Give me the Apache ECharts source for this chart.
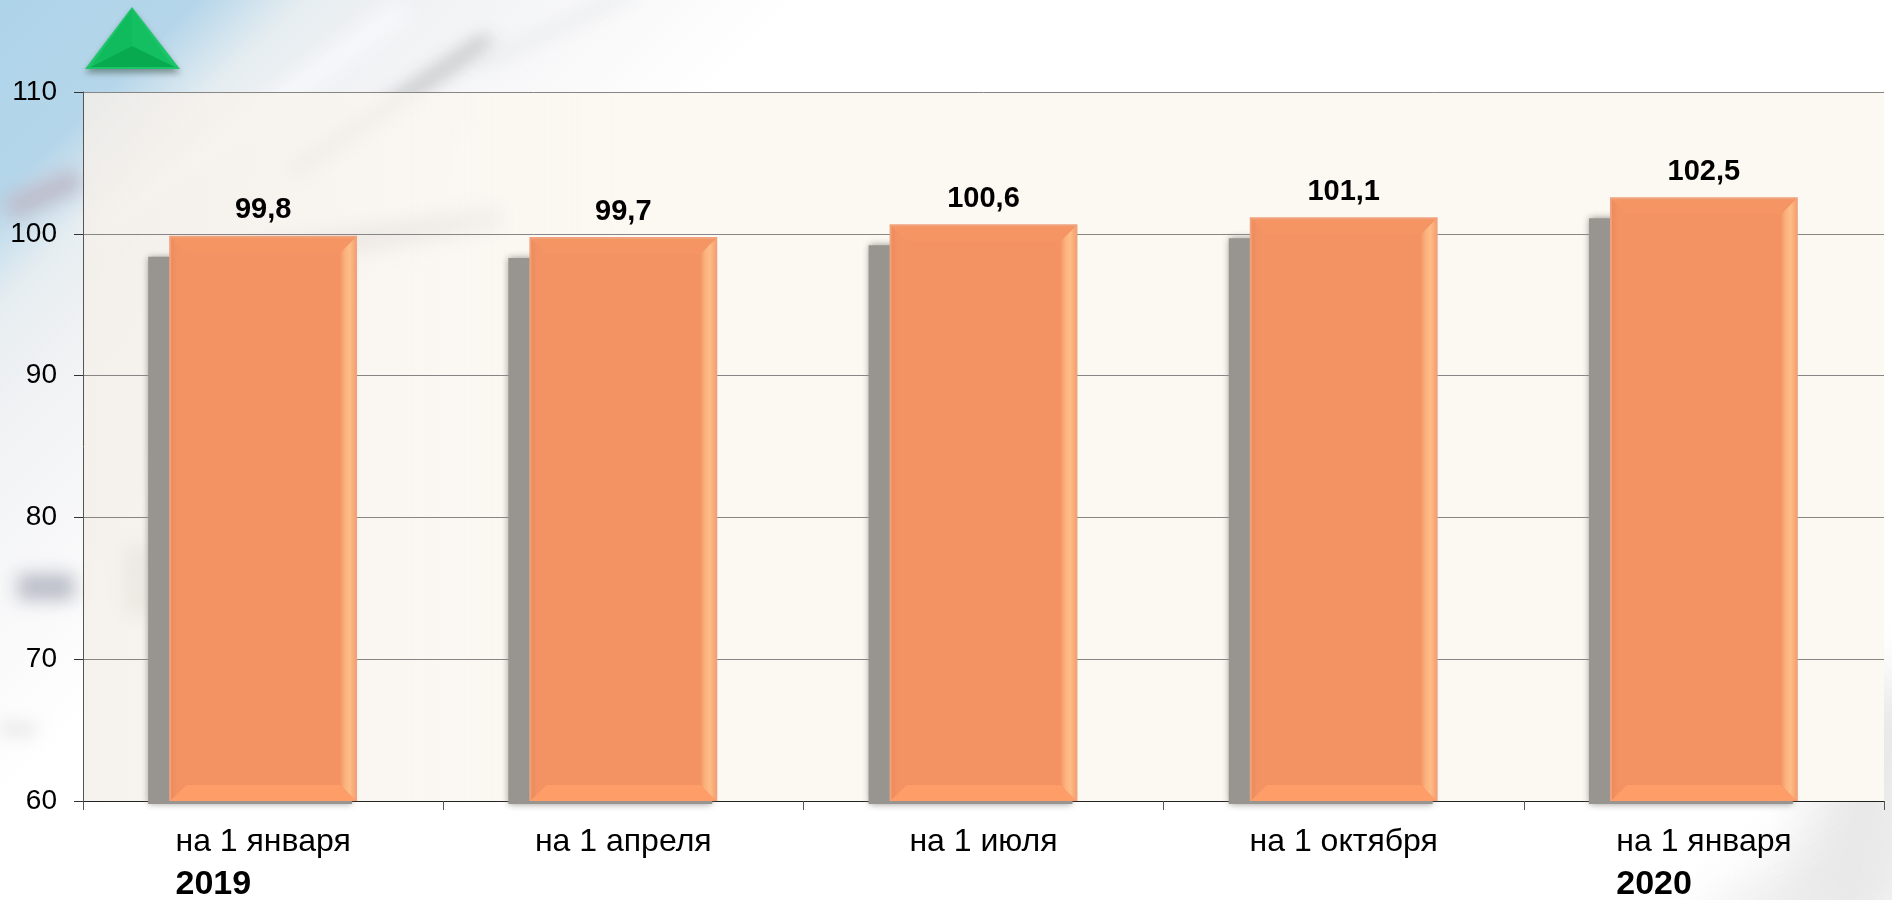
<!DOCTYPE html>
<html>
<head>
<meta charset="utf-8">
<style>
  html, body { margin: 0; height: 100%; overflow: hidden; background: #fff; }
  /* размытый фон слайда */
  .bg { position: absolute; left: 0; top: 0; width: 1892px; height: 900px; overflow: hidden;
    background: linear-gradient(135deg, #aed4ea 0, #b5d6ea 140px, #e6edf1 215px, #f1f2f4 300px, #fafafb 470px, #fff 570px); }
  .bg i { position: absolute; display: block; filter: blur(9px); }
  .bg i.soft { filter: blur(30px); }
  #main { position: absolute; left: 0; top: 0; width: 1892px; height: 900px; }
</style>
</head>
<body>
<div class="bg">
  <i style="left:60px;top:110px;width:380px;height:22px;background:#f6f8fa;transform:rotate(-36deg)"></i>
  <i style="left:270px;top:100px;width:240px;height:11px;background:#b4b6b8;transform:rotate(-34deg)"></i>
  <i style="left:470px;top:25px;width:170px;height:8px;background:#e6e8e9;transform:rotate(-25deg)"></i>
  <i style="left:225px;top:226px;width:280px;height:26px;background:#aeacb5;transform:rotate(-9deg)"></i>
  <i style="left:4px;top:182px;width:78px;height:24px;background:#bdbccb;transform:rotate(-24deg)"></i>
  <i style="left:18px;top:574px;width:56px;height:26px;background:#b9bcc7"></i>
  <i style="left:125px;top:545px;width:24px;height:70px;background:#b8b4b2"></i>
  <i style="left:0;top:727px;width:36px;height:5px;background:#c6c6c6"></i>
  <i class="soft" style="left:1820px;top:680px;width:90px;height:260px;background:#e6e6e6;transform:rotate(14deg)"></i>
  <i class="soft" style="left:1700px;top:860px;width:240px;height:60px;background:#e9e9e9;transform:rotate(-28deg)"></i>
</div>
<div id="main"></div>
<script src="https://cdn.jsdelivr.net/npm/echarts@6/dist/echarts.min.js"></script>
<script>
var categories = ['на 1 января', 'на 1 апреля', 'на 1 июля', 'на 1 октября', 'на 1 января'];
var years = ['2019', '', '', '', '2020'];
var values = [99.8, 99.7, 100.6, 101.1, 102.5];
var yTicks = [60, 70, 80, 90, 100, 110];

var fontName = '"Liberation Sans", Arial, sans-serif';
var barRatio = 0.516;

var chart = echarts.init(document.getElementById('main'), null, { renderer: 'canvas' });

// серая тень слева от столбика, снизу почти обрезана осью
function renderShadow(params, api) {
  var top = api.coord([api.value(0), api.value(1)]);
  var base = api.coord([api.value(0), yTicks[0]]);
  var w = api.size([1, 0])[0] * barRatio;
  return {
    type: 'rect',
    shape: { x: top[0] - w / 2 - 22, y: top[1] + 20, width: w + 18, height: base[1] - top[1] - 17 },
    style: { fill: '#989490', shadowBlur: 7, shadowColor: 'rgba(140,135,130,0.9)' }
  };
}

// скошенные грани столбика
function renderBevel(params, api) {
  var top = api.coord([api.value(0), api.value(1)]);
  var base = api.coord([api.value(0), yTicks[0]]);
  var w = api.size([1, 0])[0] * barRatio;
  var l = top[0] - w / 2, r = top[0] + w / 2, t = top[1], b = base[1];
  var d = 16;
  function face(points, fill) {
    return { type: 'polygon', shape: { points: points }, style: { fill: fill } };
  }
  var rightFill = new echarts.graphic.LinearGradient(0, 0, 1, 0, [
    { offset: 0, color: '#f49465' },
    { offset: 0.3, color: '#fbb17c' },
    { offset: 0.6, color: '#fdbd88' },
    { offset: 1, color: '#f89f6c' }
  ]);
  var leftFill = new echarts.graphic.LinearGradient(0, 0, 1, 0, [
    { offset: 0, color: '#ec8a5b' },
    { offset: 1, color: '#f39263' }
  ]);
  return {
    type: 'group',
    children: [
      face([[l, t], [l + 7, t + 7], [l + 7, b - 7], [l, b]], leftFill),
      face([[r, t], [r - d, t + d], [r - d, b - d], [r, b]], rightFill),
      face([[l, t], [r, t], [r - d, t + d], [l + d, t + d]], '#f59564'),
      face([[l, b], [r, b], [r - d, b - d], [l + d, b - d]], '#fe9d67'),
      { type: 'polyline', shape: { points: [[l, b], [l, t], [r, t], [r, b]] },
        style: { fill: 'none', stroke: '#efa27c', lineWidth: 2 } }
    ]
  };
}

var option = {
  animation: false,
  textStyle: { fontFamily: fontName },
  grid: {
    left: 83, right: 8, top: 92, bottom: 99,
    outerBoundsMode: 'none',
    show: true, borderWidth: 0,
    backgroundColor: new echarts.graphic.LinearGradient(0, 0, 1, 0, [
      { offset: 0, color: 'rgba(244,239,233,0.85)' },
      { offset: 0.18, color: 'rgba(250,245,239,0.85)' },
      { offset: 0.32, color: 'rgba(252,248,242,1)' },
      { offset: 1, color: 'rgba(252,248,242,1)' }
    ])
  },
  xAxis: {
    type: 'category',
    data: categories,
    axisLine: { lineStyle: { color: '#222', width: 1 } },
    axisTick: { show: true, length: 9, lineStyle: { color: '#555' } },
    axisLabel: {
      margin: 20,
      interval: 0,
      formatter: function(value, i) {
        return '{a|' + value + '}\n{b|' + (years[i] || ' ') + '}';
      },
      rich: {
        a: { fontSize: 32, lineHeight: 42, color: '#000', fontFamily: fontName, align: 'left' },
        b: { fontSize: 34, lineHeight: 43, fontWeight: 'bold', color: '#000', fontFamily: fontName, align: 'left' }
      }
    }
  },
  yAxis: {
    type: 'value',
    min: yTicks[0],
    max: yTicks[yTicks.length - 1],
    interval: 10,
    axisLine: { show: true, lineStyle: { color: '#555', width: 1 } },
    axisTick: { show: true, length: 9, lineStyle: { color: '#333' } },
    splitLine: { lineStyle: { color: '#868686', width: 1 } },
    axisLabel: { fontSize: 28, color: '#000', margin: 26 }
  },
  series: [
    { name: 'тень', type: 'custom', renderItem: renderShadow, z: 1, silent: true, clip: false,
      data: values.map(function(v, i) { return [i, v]; }),
      encode: { x: 0, y: 1 } },
    { name: 'значение', type: 'bar', barWidth: (barRatio * 100) + '%', z: 2,
      itemStyle: { color: '#f39263' },
      label: {
        show: true, position: 'top', distance: 12,
        fontSize: 29, fontWeight: 'bold', color: '#000', fontFamily: fontName,
        formatter: function(p) { return String(p.value).replace('.', ','); }
      },
      data: values },
    { name: 'грани', type: 'custom', renderItem: renderBevel, z: 3, silent: true,
      data: values.map(function(v, i) { return [i, v]; }),
      encode: { x: 0, y: 1 } }
  ],
  // зелёный треугольник сверху слева
  graphic: [
    { type: 'polygon', z: 10, shape: { points: [[132, 7], [85, 69], [180, 69]] },
      style: { fill: '#1cc46a', shadowBlur: 6, shadowOffsetY: 4, shadowColor: 'rgba(60,80,70,0.55)' } },
    { type: 'polygon', z: 11, shape: { points: [[132, 9], [92, 65], [132, 46]] }, style: { fill: '#10bb5e' } },
    { type: 'polygon', z: 11, shape: { points: [[132, 9], [172, 65], [132, 46]] }, style: { fill: '#14bf62' } },
    { type: 'polygon', z: 11, shape: { points: [[90, 67], [132, 46], [175, 67]] }, style: { fill: '#07aa4f' } }
  ]
};

chart.setOption(option);
</script>
</body>
</html>
